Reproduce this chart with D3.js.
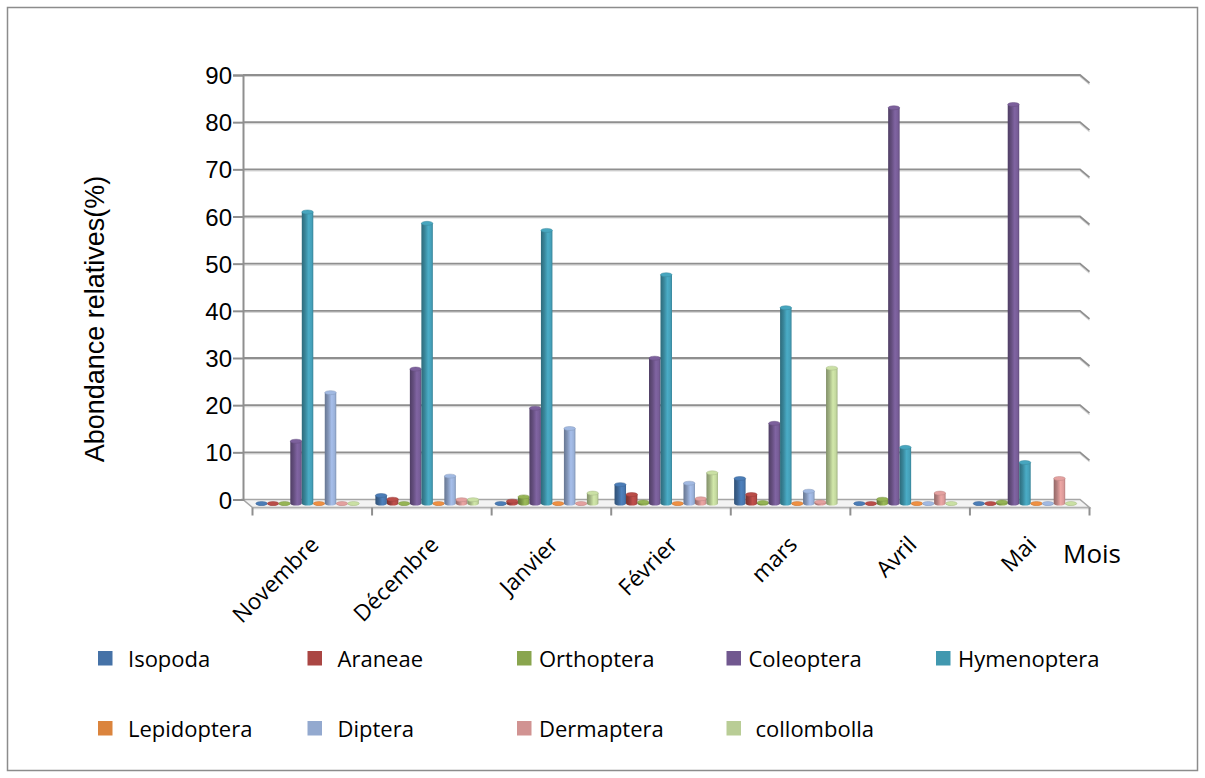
<!DOCTYPE html>
<html>
<head>
<meta charset="utf-8">
<script src="https://cdn.jsdelivr.net/npm/d3@7"></script>
<style>
  html, body { margin: 0; padding: 0; background: #fff; }
  svg { display: block; }
</style>
</head>
<body>
<svg id="chart" width="1205" height="778"></svg>
<script>
// Months (categories)
const months = ["Novembre", "Décembre", "Janvier", "Février", "mars", "Avril", "Mai"];

// Taxa (series) and their colours
const taxa = ["Isopoda", "Araneae", "Orthoptera", "Coleoptera", "Hymenoptera",
              "Lepidoptera", "Diptera", "Dermaptera", "collombolla"];
const taxaColors = ["#4572A7", "#AA4643", "#89A54E", "#71588F", "#4198AF",
                    "#DB843D", "#93A9CF", "#D19392", "#B9CD96"];

// Relative abundance (%) per taxon, one value per month
const isopoda     = [0,    1.7,  0,    4.0,  5.3,  0,    0];
const araneae     = [0,    0.9,  0.5,  1.9,  1.9,  0,    0];
const orthoptera  = [0,    0,    1.4,  0.3,  0.2,  0.9,  0.3];
const coleoptera  = [13.2, 28.5, 20.2, 30.8, 17.0, 83.9, 84.6];
const hymenoptera = [61.8, 59.4, 57.9, 48.5, 41.5, 11.9, 8.7];
const lepidoptera = [0,    0,    0,    0,    0,    0,    0];
const diptera     = [23.5, 5.8,  15.9, 4.3,  2.6,  0,    0];
const dermaptera  = [0,    0.8,  0,    1.0,  0.3,  2.2,  5.3];
const collombolla = [0,    0.8,  2.2,  6.5,  28.7, 0,    0];

const seriesValues = [isopoda, araneae, orthoptera, coleoptera, hymenoptera,
                      lepidoptera, diptera, dermaptera, collombolla];

// Value axis ticks
const yTicks = [0, 10, 20, 30, 40, 50, 60, 70, 80, 90];

const yTitle = "Abondance relatives(%)";
const xTitle = "Mois";

const svg = d3.select("#chart");

// Outer frame
svg.append("rect")
  .attr("x", 7.5).attr("y", 7.5).attr("width", 1190).attr("height", 763)
  .attr("fill", "#fff").attr("stroke", "#8c8c8c").attr("stroke-width", 1.5);

// Geometry of the 3D box: back wall and front edge of the floor
const backLeft = 243, backRight = 1080;
const depthX = 9.5, depthY = 8;

const y = d3.scaleLinear().domain([0, 90]).range([499.5, 75]);
const xBack = d3.scaleBand().domain(months).range([backLeft, backRight]);
const xFront = d3.scaleBand().domain(months).range([backLeft + depthX, backRight + depthX]);
// Bars sit halfway into the depth of the box
const midX = depthX / 2, midY = depthY / 2;
const xMid = d3.scaleBand().domain(months)
  .range([backLeft + midX, backRight + midX]).paddingInner(0.135).paddingOuter(0.0675);
const xSeries = d3.scaleBand().domain(taxa).range([0, xMid.bandwidth()]);

// Gradients giving the columns a rounded, shaded look
const defs = svg.append("defs");
taxa.forEach((t, i) => {
  const c = d3.color(taxaColors[i]);
  const g = defs.append("linearGradient").attr("id", "grad" + i)
    .attr("x1", "0").attr("x2", "1").attr("y1", "0").attr("y2", "0");
  [[0, c.darker(1.0)], [0.3, c.darker(0.35)], [0.6, c.brighter(0.35)],
   [0.85, c.brighter(0.15)], [1, c.darker(0.4)]].forEach(([o, col]) => {
    g.append("stop").attr("offset", o).attr("stop-color", col.formatHex());
  });
});

// Floor
const floorY0 = y(0);
svg.append("path")
  .attr("d", `M${backLeft},${floorY0} L${backRight},${floorY0} L${backRight + depthX},${floorY0 + depthY} L${backLeft + depthX},${floorY0 + depthY} Z`)
  .attr("fill", "#f3f3f3").attr("stroke", "#a6a6a6").attr("stroke-width", 1.5);
svg.append("line")
  .attr("x1", backLeft + depthX).attr("x2", backRight + depthX)
  .attr("y1", floorY0 + depthY + 1).attr("y2", floorY0 + depthY + 1)
  .attr("stroke", "#d4d4d4").attr("stroke-width", 1.5);

// Gridlines on the back wall, with the side-wall return at the right end
const grid = svg.append("g");
yTicks.filter(v => v > 0).forEach(v => {
  const yy = y(v);
  grid.append("path")
    .attr("d", `M${backLeft},${yy + 1.5} L${backRight},${yy + 1.5} L${backRight + depthX},${yy + depthY + 1.5}`)
    .attr("fill", "none").attr("stroke", "#d8d8d8").attr("stroke-width", 1.2);
  grid.append("path")
    .attr("d", `M${backLeft},${yy} L${backRight},${yy} L${backRight + depthX},${yy + depthY}`)
    .attr("fill", "none").attr("stroke", "#8f8f8f").attr("stroke-width", 1.8);
});

// Value axis
const yAxis = d3.axisLeft(y).tickValues(yTicks).tickSize(10).tickPadding(1);
const yAxisG = svg.append("g").attr("transform", `translate(${backLeft},0)`).call(yAxis);
yAxisG.select(".domain").attr("stroke", "#8f8f8f").attr("stroke-width", 2);
yAxisG.selectAll(".tick line").attr("stroke", "#8f8f8f").attr("stroke-width", 2);
yAxisG.selectAll(".tick text")
  .attr("font-family", "'Liberation Sans', Arial, sans-serif")
  .attr("font-size", 24).attr("fill", "#000").attr("dy", "0.36em");

// Category axis ticks along the front edge of the floor
const catEdges = months.map(m => xFront(m)).concat([backRight + depthX]);
svg.append("g").selectAll("line").data(catEdges).join("line")
  .attr("x1", d => d).attr("x2", d => d)
  .attr("y1", floorY0 + depthY).attr("y2", floorY0 + depthY + 8)
  .attr("stroke", "#8f8f8f").attr("stroke-width", 2);

// Columns
const rows = [];
months.forEach((m, mi) => {
  taxa.forEach((t, si) => {
    rows.push({ month: m, taxon: t, si: si, value: seriesValues[si][mi] });
  });
});

const barsG = svg.append("g");
const rx = xSeries.bandwidth() / 2, ry = 2;
rows.forEach(d => {
  const x0 = xMid(d.month) + xSeries(d.taxon);
  const base = y(0) + midY;
  const top = y(d.value) + midY;
  const col = d3.color(taxaColors[d.si]);
  barsG.append("path")
    .attr("d", `M${x0},${top} L${x0},${base} A${rx},${ry} 0 0 0 ${x0 + 2 * rx},${base} L${x0 + 2 * rx},${top} Z`)
    .attr("fill", `url(#grad${d.si})`);
  barsG.append("ellipse")
    .attr("cx", x0 + rx).attr("cy", top).attr("rx", rx).attr("ry", ry)
    .attr("fill", col.brighter(0.25).formatHex())
    .attr("stroke", col.darker(0.3).formatHex()).attr("stroke-width", 0.5);
});

// Month labels, slanted
svg.append("g").selectAll("text").data(months).join("text")
  .attr("transform", d => `translate(${xFront(d) + xFront.bandwidth() / 2 + 8},${546}) rotate(-45)`)
  .attr("text-anchor", "end")
  .attr("font-family", "'Open Sans', 'Noto Sans', sans-serif")
  .attr("font-size", 22.5)
  .attr("fill", "#000")
  .text(d => d);

// Axis titles
svg.append("text")
  .attr("transform", `translate(104,319) rotate(-90)`)
  .attr("text-anchor", "middle")
  .attr("font-family", "'Liberation Sans', Arial, sans-serif")
  .attr("font-size", 27)
  .attr("fill", "#000")
  .text(yTitle);

svg.append("text")
  .attr("x", 1063).attr("y", 563)
  .attr("font-family", "'Open Sans', 'Noto Sans', sans-serif")
  .attr("font-size", 26)
  .attr("fill", "#000")
  .text(xTitle);

// Legend: two rows of five columns
const legendCols = d3.scaleLinear().domain([0, 1]).range([98, 307.5]);
const legendRowY = [651, 721];
const legend = svg.append("g");
taxa.forEach((t, i) => {
  const col = i % 5, row = Math.floor(i / 5);
  const lx = legendCols(col), ly = legendRowY[row];
  legend.append("rect")
    .attr("x", lx).attr("y", ly).attr("width", 14.5).attr("height", 14.5)
    .attr("fill", taxaColors[i]);
  const gap = t === "collombolla" ? 29 : (col >= 2 ? 22 : 30);
  legend.append("text")
    .attr("x", lx + gap).attr("y", ly + 15.5)
    .attr("font-family", "'Open Sans', 'Noto Sans', sans-serif")
    .attr("font-size", 22)
    .attr("fill", "#000")
    .text(t);
});
</script>
</body>
</html>
